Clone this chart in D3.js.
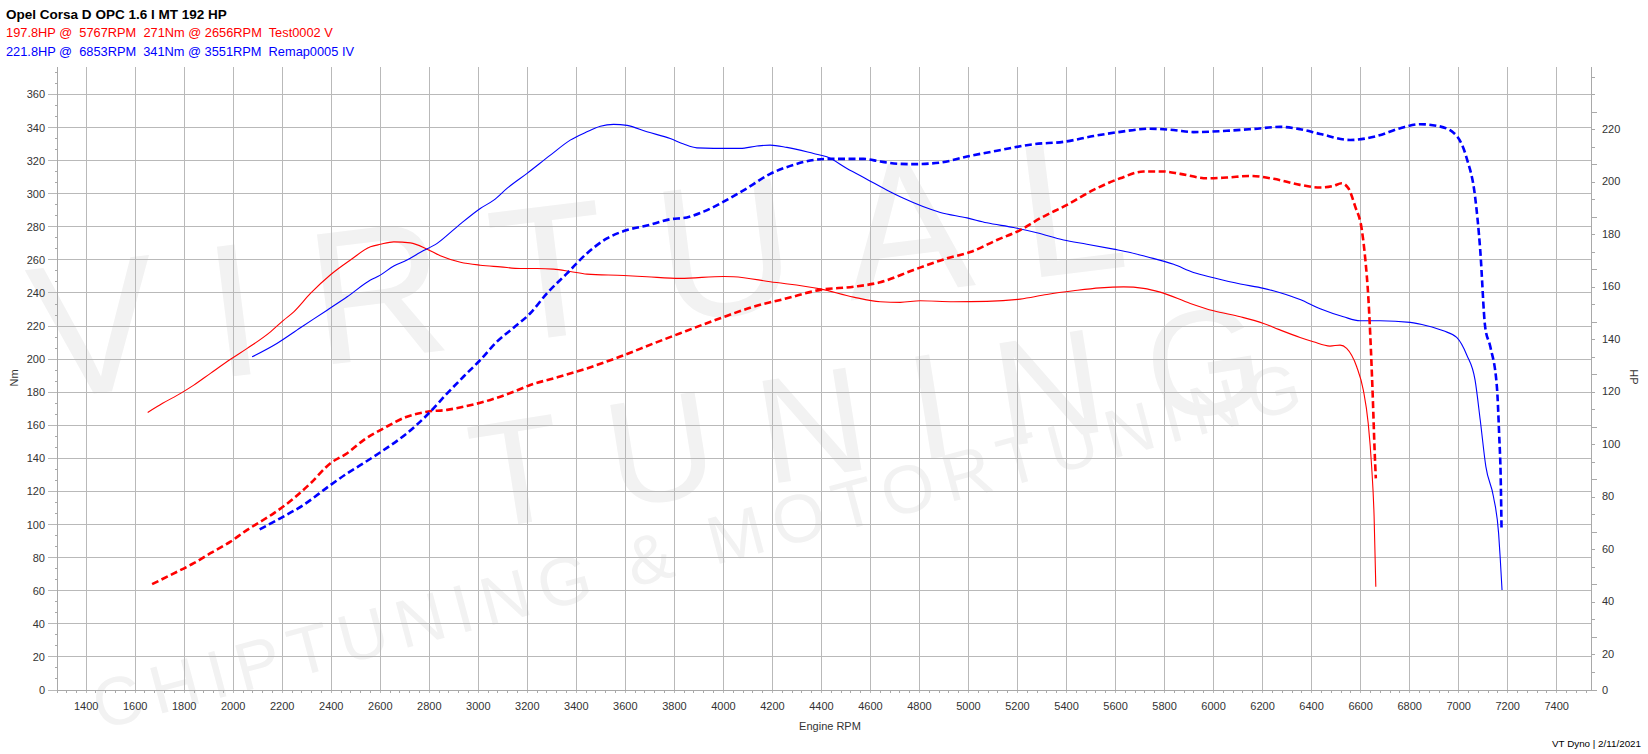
<!DOCTYPE html>
<html>
<head>
<meta charset="utf-8">
<script src="https://cdn.jsdelivr.net/npm/d3@7"></script>
<style>
  html, body { margin: 0; padding: 0; background: #fff; }
  svg { display: block; }
  text { font-family: "Liberation Sans", Arial, sans-serif; white-space: pre; }
</style>
</head>
<body>
<svg id="chart" width="1648" height="754"></svg>
<script>
// ---------------- DATA ----------------
const titleText = "Opel Corsa D OPC 1.6 l MT 192 HP";
const stockLabel = "197.8HP @  5767RPM  271Nm @ 2656RPM  Test0002 V";
const remapLabel = "221.8HP @  6853RPM  341Nm @ 3551RPM  Remap0005 IV";
const footerText = "VT Dyno | 2/11/2021";
const xTitle = "Engine RPM";
const yLeftTitle = "Nm";
const yRightTitle = "HP";
const watermarkWords = ["VIRTUAL", "TUNING", "CHIPTUNING & MOTORTUNING"];

const rpmTicks = [1400,1600,1800,2000,2200,2400,2600,2800,3000,3200,3400,3600,3800,4000,4200,4400,4600,4800,5000,5200,5400,5600,5800,6000,6200,6400,6600,6800,7000,7200,7400];
const nmTicks = [0,20,40,60,80,100,120,140,160,180,200,220,240,260,280,300,320,340,360];
const hpTicks = [0,20,40,60,80,100,120,140,160,180,200,220];

// Stock (Test0002 V) torque, Nm
const stockTqRpm = [1651,1712,1785,1839,1907,1989,2057,2152,2206,2247,2315,2397,2478,2560,2600,2655,2723,2791,2845,2927,3008,3090,3171,3239,3307,3375,3443,3593,3688,3824,4001,4041,4191,4395,4531,4640,4722,4803,4939,5075,5211,5320,5428,5537,5633,5714,5782,5905,6000,6109,6204,6265,6353,6407,6475,6516,6543,6584,6611,6631,6645,6655,6662];
const stockTq =    [167.8,173.3,179.3,184.3,191.4,199.9,206.5,216.5,223.6,228.6,239.7,251.0,259.9,267.9,269.4,270.9,270.3,266.5,262.5,258.6,256.8,255.8,254.8,254.8,254.4,253.0,251.4,250.6,249.8,248.8,250.0,249.8,246.8,242.5,237.5,234.7,234.3,235.3,234.7,234.9,236.3,239.1,241.3,243.1,243.7,242.8,240.5,233.7,229.2,225.6,221.6,218.0,213.1,210.5,207.9,208.5,206.5,195.4,181.3,161.2,135.0,104.7,62.4];

// Remap (Remap0005 IV) torque, Nm
const remapTqRpm = [2077,2178,2274,2383,2465,2560,2600,2655,2709,2764,2832,2913,3008,3063,3117,3199,3294,3375,3443,3498,3552,3607,3688,3783,3838,3892,3960,4069,4137,4191,4259,4368,4422,4504,4585,4680,4735,4885,4994,5075,5184,5279,5388,5483,5592,5660,5728,5837,5918,6000,6109,6204,6272,6353,6435,6530,6598,6680,6802,6870,6938,6992,7033,7067,7088,7111,7142,7163,7170,7177];
const remapTq =    [201.4,209.5,219.0,229.6,237.7,247.8,250.8,256.3,259.9,264.6,270.0,280.0,291.1,296.1,303.2,312.3,323.3,332.4,337.4,340.8,341.9,341.3,337.4,333.4,330.0,327.7,327.4,327.4,328.8,329.4,328.0,324.3,322.3,315.3,308.8,301.2,297.2,288.7,285.4,282.4,279.6,276.4,272.0,269.5,266.5,264.5,261.9,257.3,252.4,249.2,245.4,242.8,240.1,236.0,230.4,225.6,223.2,223.2,222.2,220.2,217.1,213.1,202.5,187.3,163.2,135.0,116.8,94.7,78.6,60.4];

// Stock power, HP
const stockHpRpm = [1669,1744,1839,1907,1989,2057,2111,2165,2247,2315,2397,2465,2532,2614,2709,2791,2873,2940,3049,3144,3212,3307,3443,3579,3715,3824,3987,4123,4259,4395,4531,4640,4776,4912,5007,5116,5211,5293,5402,5510,5619,5714,5796,5864,5973,6054,6150,6245,6353,6435,6489,6523,6550,6578,6605,6618,6632,6642,6650,6657,6662];
const stockHp =    [40.3,43.8,48.3,52.1,56.5,61.0,64.1,67.3,73.0,78.7,86.4,90.2,95.2,99.7,104.1,106.0,106.7,107.9,110.5,113.6,116.2,118.7,122.5,127.0,132.0,135.9,141.6,146.0,149.2,152.4,153.6,155.3,160.0,164.4,166.8,171.4,175.2,179.7,184.8,190.5,194.9,197.5,197.5,196.6,194.9,195.2,195.8,194.7,192.4,191.4,192.0,193.0,191.1,184.1,175.2,165.1,148.6,129.5,110.5,91.4,80.6];

// Remap power, HP
const remapHpRpm = [2108,2192,2287,2397,2465,2532,2614,2709,2798,2873,2940,3008,3076,3144,3212,3280,3362,3443,3525,3607,3688,3783,3851,3919,4001,4096,4191,4286,4368,4422,4572,4640,4722,4776,4885,4994,5116,5266,5388,5510,5619,5741,5837,5918,6054,6163,6272,6353,6435,6557,6666,6762,6843,6911,6979,7033,7067,7088,7108,7129,7156,7165,7172,7175];
const remapHp =    [61.2,65.4,70.5,78.1,82.5,86.4,91.4,97.8,105.4,113.0,119.4,125.7,132.7,138.0,143.5,151.1,158.7,166.3,172.0,175.2,176.9,179.3,180.0,182.2,186.0,191.1,196.6,200.0,201.9,202.3,202.3,201.3,200.4,200.3,200.9,203.2,205.4,207.9,208.8,211.0,212.6,213.8,213.3,212.5,213.0,213.7,214.5,213.6,211.8,209.5,211.0,214.0,215.5,214.9,212.3,202.5,187.9,167.6,138.4,130.8,115.5,97.8,78.7,61.0];

// ---------------- LAYOUT ----------------
const plot = { left: 57.5, right: 1591.5, top: 67, bottom: 690 };
const gridColor = "#b9b9b9";
const axisColor = "#a9a9a9";
const textColor = "#333333";

const svg = d3.select("#chart");

const x = d3.scaleLinear().domain([1283, 7542]).range([plot.left, plot.right]);
const yNm = d3.scaleLinear().domain([0, 376.6]).range([plot.bottom, plot.top]);
const yHp = d3.scaleLinear().domain([0, 237.3]).range([plot.bottom, plot.top]);
const crisp = v => Math.round(v - 0.5) + 0.5;

// ---------------- WATERMARK ----------------
const wm = svg.append("g").attr("fill", "#f2f2f2").style("pointer-events", "none")
  .style("font-family", "'DejaVu Sans', sans-serif");
const wmSpec = [
  { t: "translate(40,400) rotate(-7)", fs: 190, ls: 50 },
  { t: "translate(480,530) rotate(-9)", fs: 150, ls: 45 },
  { t: "translate(100,730) rotate(-15)", fs: 68, ls: 10 }
];
watermarkWords.forEach((w, i) => {
  wm.append("text").attr("transform", wmSpec[i].t)
    .attr("font-size", wmSpec[i].fs).attr("letter-spacing", wmSpec[i].ls)
    .text(w);
});

// ---------------- GRID ----------------
const grid = svg.append("g").attr("stroke", gridColor).attr("stroke-width", 1).attr("shape-rendering", "crispEdges");
grid.selectAll("line.v").data(rpmTicks).join("line")
  .attr("x1", d => crisp(x(d))).attr("x2", d => crisp(x(d)))
  .attr("y1", plot.top).attr("y2", plot.bottom + 3);
grid.selectAll("line.h").data(nmTicks).join("line")
  .attr("x1", plot.left - 10).attr("x2", plot.right)
  .attr("y1", d => crisp(yNm(d))).attr("y2", d => crisp(yNm(d)));

// ---------------- AXES ----------------
const ax = svg.append("g").attr("stroke", axisColor).attr("stroke-width", 1).attr("shape-rendering", "crispEdges");
ax.append("line").attr("x1", plot.left).attr("x2", plot.left).attr("y1", plot.top).attr("y2", plot.bottom + 3);
ax.append("line").attr("x1", plot.right).attr("x2", plot.right).attr("y1", plot.top).attr("y2", plot.bottom);
ax.append("line").attr("x1", plot.left).attr("x2", plot.right).attr("y1", plot.bottom + 0.5).attr("y2", plot.bottom + 0.5);

const xMinor = d3.range(1320, 7542, 40).filter(v => v % 200 !== 0);
ax.selectAll("line.xm").data(xMinor).join("line")
  .attr("x1", d => crisp(x(d))).attr("x2", d => crisp(x(d)))
  .attr("y1", plot.bottom).attr("y2", plot.bottom + 3);
const nmMinor = d3.range(0, 376, 20 / 3).filter((v, i) => i % 3 !== 0);
ax.selectAll("line.ym").data(nmMinor).join("line")
  .attr("x1", plot.left - 3).attr("x2", plot.left)
  .attr("y1", d => crisp(yNm(d))).attr("y2", d => crisp(yNm(d)));
const hpAll = d3.range(0, 237, 20 / 3);
ax.selectAll("line.hm").data(hpAll).join("line")
  .attr("x1", plot.right).attr("x2", (d, i) => plot.right + (i % 3 === 0 ? 5 : 3))
  .attr("y1", d => crisp(yHp(d))).attr("y2", d => crisp(yHp(d)));

// tick labels
const lab = svg.append("g").attr("fill", textColor).attr("font-size", 11);
lab.selectAll("text.x").data(rpmTicks).join("text")
  .attr("x", d => x(d)).attr("y", 710).attr("text-anchor", "middle")
  .text(d => d);
lab.selectAll("text.yl").data(nmTicks).join("text")
  .attr("x", 45).attr("y", d => yNm(d) + 4).attr("text-anchor", "end")
  .text(d => d);
lab.selectAll("text.yr").data(hpTicks).join("text")
  .attr("x", 1602).attr("y", d => d === 0 ? yHp(d) + 4 : yHp(d) + 20.5).attr("text-anchor", "start")
  .text(d => d);

// axis titles
lab.append("text").attr("x", 830).attr("y", 729.5).attr("text-anchor", "middle").text(xTitle);
lab.append("text").attr("transform", "translate(17.5,378) rotate(-90)").attr("text-anchor", "middle").text(yLeftTitle);
lab.append("text").attr("transform", "translate(1629.5,377) rotate(90)").attr("text-anchor", "middle").text(yRightTitle);

// ---------------- CURVES ----------------
const curves = svg.append("g").attr("fill", "none").attr("stroke-linejoin", "round");
function draw(rpms, vals, yScale, color, dashed) {
  const pts = rpms.map((r, i) => [r, vals[i]]);
  const line = d3.line().x(d => x(d[0])).y(d => yScale(d[1])).curve(d3.curveMonotoneX);
  curves.append("path").datum(pts)
    .attr("d", line)
    .attr("stroke", color)
    .attr("stroke-width", dashed ? 2.6 : 1.1)
    .attr("stroke-dasharray", dashed ? "7,3.5" : null);
}
draw(stockTqRpm, stockTq, yNm, "#ff0000", false);
draw(remapTqRpm, remapTq, yNm, "#0000ff", false);
draw(stockHpRpm, stockHp, yHp, "#ff0000", true);
draw(remapHpRpm, remapHp, yHp, "#0000ff", true);

// ---------------- HEADER ----------------
function fit(sel, w) {
  const n = sel.node();
  const fs = parseFloat(sel.attr("font-size"));
  const len = n.getComputedTextLength();
  if (len > 0) sel.attr("font-size", (fs * w / len).toFixed(2));
}
const t1 = svg.append("text").attr("x", 6).attr("y", 18.5).attr("font-size", 12).attr("font-weight", "bold").attr("fill", "#000").text(titleText);
fit(t1, 221);
const t2 = svg.append("text").attr("x", 6).attr("y", 37).attr("font-size", 12).attr("fill", "#ff0000").text(stockLabel);
fit(t2, 327);
const t3 = svg.append("text").attr("x", 6).attr("y", 56).attr("font-size", 12).attr("fill", "#0000ff").text(remapLabel);
fit(t3, 348);
const t4 = svg.append("text").attr("x", 1641).attr("y", 746.5).attr("font-size", 11).attr("text-anchor", "end").attr("fill", "#000").text(footerText);
fit(t4, 89);
</script>
</body>
</html>
